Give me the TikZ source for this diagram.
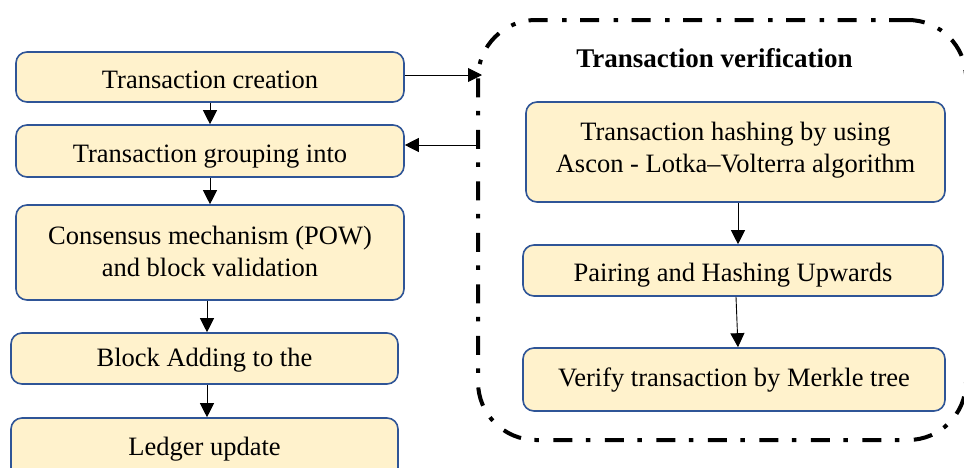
\documentclass[tikz,border=0pt]{standalone}
\usepackage{fontspec}
\setmainfont{Liberation Serif}
\usetikzlibrary{arrows.meta}
\definecolor{boxfill}{HTML}{FFF2CC}
\definecolor{boxline}{HTML}{2F5597}
\newcommand{\lowtxt}[2]{\raisebox{-#1}[\height][\depth]{\begin{tabular}{@{}c@{}}#2\end{tabular}}}
\begin{document}
\begin{tikzpicture}[x=1pt,y=-1pt,
  stepbox/.style={draw=boxline, line width=1.6pt, fill=boxfill, rounded corners=11pt,
     minimum width=#1, align=center, inner sep=0pt,
     font=\fontsize{26.5}{32}\selectfont},
  flow/.style={-{Triangle[length=14pt,width=14pt]}, line width=0.9pt},
  verifbox/.style={draw, line width=4pt, dash pattern=on 19pt off 13.5pt on 4.5pt off 14.5pt, rounded corners=58pt, inner sep=0pt}
]
\useasboundingbox (0,0) rectangle (964,467);
\node[verifbox, minimum width=488pt, minimum height=420pt] (verif) at (722,230) {};
\node[font=\bfseries\fontsize{27}{32}\selectfont] (title) at (714.5,58) {Transaction verification};

\node[stepbox=388pt, minimum height=50pt] (b1) at (210,77) {\lowtxt{4.6pt}{Transaction creation}};
\node[stepbox=388pt, minimum height=52pt] (b2) at (210,151) {\lowtxt{4.6pt}{Transaction grouping into}};
\node[stepbox=388pt, minimum height=95pt] (b3) at (210,252.5) {\lowtxt{2pt}{Consensus mechanism (POW)\\and block validation}};
\node[stepbox=387pt, minimum height=51pt] (b4) at (204.5,358.5) {\lowtxt{2pt}{Block Adding to the}};
\node[stepbox=387pt, minimum height=62pt] (b5) at (204.5,449) {\lowtxt{0pt}{Ledger update}};

\node[stepbox=419pt, minimum height=100pt] (r1) at (735.5,152) {\lowtxt{-2pt}{Transaction hashing by using\\Ascon - Lotka–Volterra algorithm}};
\node[stepbox=420pt, minimum height=51pt] (r2) at (733,270.5) {\lowtxt{5pt}{Pairing and Hashing Upwards}};
\node[stepbox=422pt, minimum height=63pt] (r3) at (734,379.5) {\lowtxt{1pt}{Verify transaction by Merkle tree\hspace{16pt}}};

\coordinate (in) at (482,75);
\coordinate (out) at (480,145);
\draw[flow] (b1.east |- in) -- (in);
\draw[flow] (out) -- (b2.east |- out);
\draw[flow] (b1.south -| 210,0) -- (b2.north -| 210,0);
\draw[flow] (b2.south -| 210,0) -- (b3.north -| 210,0);
\draw[flow] (b3.south -| 207,0) -- (b4.north -| 207,0);
\draw[flow] (b4.south -| 207,0) -- (b5.north -| 207,0);
\draw[flow] (r1.south -| 738,0) -- (r2.north -| 738,0);
\draw[flow] (r2.south -| 736,0) -- (r3.north -| 738,0);
\end{tikzpicture}
\end{document}
